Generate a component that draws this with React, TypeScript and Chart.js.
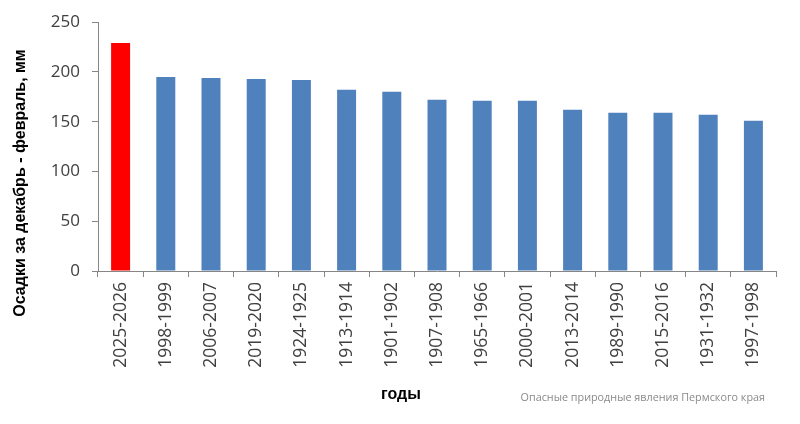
import React, { useEffect, useRef } from "react";
import { Chart, registerables } from "chart.js";

Chart.register(...registerables);

const categories: string[] = [
  "2025-2026", "1998-1999", "2006-2007", "2019-2020", "1924-1925",
  "1913-1914", "1901-1902", "1907-1908", "1965-1966", "2000-2001",
  "2013-2014", "1989-1990", "2015-2016", "1931-1932", "1997-1998",
];
const precipitation: number[] = [229, 195, 194, 193, 192, 182, 180, 172, 171, 171, 162, 159, 159, 157, 151];
const barColors: string[] = [
  "#FF0000", "#4F81BD", "#4F81BD", "#4F81BD", "#4F81BD",
  "#4F81BD", "#4F81BD", "#4F81BD", "#4F81BD", "#4F81BD",
  "#4F81BD", "#4F81BD", "#4F81BD", "#4F81BD", "#4F81BD",
];
const yTitle = "Осадки за декабрь - февраль, мм";
const xTitle = "годы";
const sourceText = "Опасные природные явления Пермского края";

const textPlugin = {
  id: "extraText",
  afterDraw(chart: any) {
    const ctx = chart.ctx;
    ctx.save();
    ctx.fillStyle = "#000";
    ctx.font = "bold 16px 'Liberation Sans', Arial, sans-serif";
    ctx.textAlign = "center";
    ctx.textBaseline = "middle";
    ctx.translate(21, 183);
    ctx.rotate(-Math.PI / 2);
    ctx.fillText(yTitle, 0, 0);
    ctx.restore();

    ctx.save();
    ctx.fillStyle = "#000";
    ctx.font = "bold 16px 'Liberation Sans', Arial, sans-serif";
    ctx.textAlign = "center";
    ctx.textBaseline = "middle";
    ctx.fillText(xTitle, 401, 395);
    ctx.restore();

    ctx.save();
    ctx.fillStyle = "#8a8a8a";
    ctx.font = "10.8px 'Open Sans', sans-serif";
    ctx.textAlign = "right";
    ctx.textBaseline = "middle";
    ctx.fillText(sourceText, 765, 398);
    ctx.restore();
  },
};

export default function App() {
  const ref = useRef<HTMLCanvasElement | null>(null);
  useEffect(() => {
    if (!ref.current) return;
    const chart = new Chart(ref.current, {
      type: "bar",
      data: {
        labels: categories,
        datasets: [
          {
            data: precipitation,
            backgroundColor: barColors,
            borderWidth: 0,
            barPercentage: 0.42,
            categoryPercentage: 1,
          },
        ],
      },
      options: {
        animation: false,
        responsive: false,
        layout: { padding: { top: 22, right: 24, left: 0, bottom: 0 } },
        plugins: { legend: { display: false }, tooltip: { enabled: false } },
        scales: {
          x: {
            afterFit: (s: any) => { s.height = 153; },
            grid: {
              display: true,
              drawOnChartArea: false,
              drawTicks: true,
              tickLength: 6,
              color: "#868686",
              offset: true,
            },
            border: { display: true, color: "#868686", width: 1 },
            ticks: {
              minRotation: 90,
              maxRotation: 90,
              autoSkip: false,
              padding: 5,
              color: "#404040",
              font: { family: "'Open Sans', sans-serif", size: 17.5 },
            },
          },
          y: {
            min: 0,
            max: 250,
            afterFit: (s: any) => { s.width = 98; },
            grid: {
              display: true,
              drawOnChartArea: false,
              drawTicks: true,
              tickLength: 6,
              color: "#868686",
            },
            border: { display: true, color: "#868686", width: 1 },
            ticks: {
              stepSize: 50,
              padding: 12,
              color: "#404040",
              font: { family: "'Open Sans', sans-serif", size: 17 },
            },
          },
        },
      },
      plugins: [textPlugin],
    });
    return () => chart.destroy();
  }, []);
  return (
    <div style={{ position: "absolute", left: 0, top: 0, width: 800, height: 424, background: "#fff" }}>
      <canvas ref={ref} width={800} height={424} style={{ display: "block" }} />
    </div>
  );
}
